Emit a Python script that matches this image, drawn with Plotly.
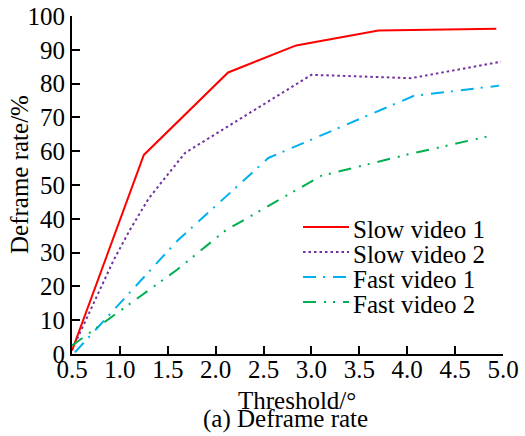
import plotly.graph_objects as go

# ---- data ----
series_names = ["Slow video 1", "Slow video 2", "Fast video 1", "Fast video 2"]
slow1_x = [0.5, 1.25, 2.13, 2.84, 3.70, 4.93]
slow1_y = [1.0, 58.9, 83.3, 91.3, 95.7, 96.2]
slow2_x = [0.53, 0.93, 1.10, 1.30, 1.68, 3.00, 4.04, 4.98]
slow2_y = [3.0, 27.5, 36.5, 46.0, 59.5, 82.6, 81.6, 86.5]
fast1_x = [0.53, 1.60, 2.55, 4.07, 4.96]
fast1_y = [0.5, 33.5, 58.0, 76.4, 79.4]
fast2_x = [0.5, 1.60, 2.10, 3.10, 4.00, 4.86]
fast2_y = [2.5, 25.0, 36.5, 52.7, 59.0, 64.5]
x_ticks = [0.5, 1.0, 1.5, 2.0, 2.5, 3.0, 3.5, 4.0, 4.5, 5.0]
x_tick_labels = ["0.5", "1.0", "1.5", "2.0", "2.5", "3.0", "3.5", "4.0", "4.5", "5.0"]
y_ticks = [0, 10, 20, 30, 40, 50, 60, 70, 80, 90, 100]

colors = ["#FF0000", "#7030A0", "#00B0F0", "#00B050"]
dashes = ["solid", "2.5px,3px", "13px,7px,2px,8px", "13px,8px,2px,7px,2px,8px"]
FONT = "Liberation Serif, Times New Roman, serif"
FS = 25

fig = go.Figure()
for name, xs, ys, c, d in zip(series_names,
                              [slow1_x, slow2_x, fast1_x, fast2_x],
                              [slow1_y, slow2_y, fast1_y, fast2_y],
                              colors, dashes):
    fig.add_trace(go.Scatter(x=xs, y=ys, mode="lines", name=name,
                             line=dict(color=c, width=2, dash=d),
                             showlegend=False))

# plot-area pixel geometry (for the hand-built legend)
L, R, T, B = 72, 22, 16, 82
W, H = 525, 436
pw, ph = W - L - R, H - T - B


def px(xp):
    return (xp - L) / pw


def py(yp):
    return (H - B - yp) / ph


shapes = []
annotations = []
row_y = [227, 252, 277, 302]
for name, c, d, yy in zip(series_names, colors, dashes, row_y):
    shapes.append(dict(type="line", xref="paper", yref="paper",
                       x0=px(303), x1=px(349), y0=py(yy), y1=py(yy),
                       line=dict(color=c, width=2, dash=d)))
    annotations.append(dict(text=name, xref="paper", yref="paper",
                            x=px(351), y=py(yy + 2), xanchor="left", yanchor="middle",
                            showarrow=False, font=dict(family=FONT, size=FS, color="black")))

annotations.append(dict(text="(a) Deframe rate", xref="paper", yref="paper",
                        x=px(285), y=py(419), xanchor="center", yanchor="middle",
                        showarrow=False, font=dict(family=FONT, size=FS, color="black")))
annotations.append(dict(text="Threshold/°", xref="paper", yref="paper",
                        x=px(297), y=py(400), xanchor="center", yanchor="middle",
                        showarrow=False, font=dict(family=FONT, size=FS, color="black")))
annotations.append(dict(text="Deframe rate/%", xref="paper", yref="paper",
                        x=px(19), y=py(175), xanchor="center", yanchor="middle",
                        textangle=-90, showarrow=False,
                        font=dict(family=FONT, size=FS, color="black")))

fig.update_layout(
    width=W, height=H,
    margin=dict(l=L, r=R, t=T, b=B),
    paper_bgcolor="white", plot_bgcolor="white",
    font=dict(family=FONT, size=FS, color="black"),
    shapes=shapes, annotations=annotations,
    xaxis=dict(range=[0.5, 5.0], tickvals=x_ticks, ticktext=x_tick_labels,
               automargin=False, ticklabelstandoff=-8,
               showgrid=False, zeroline=False, showline=True, linecolor="black",
               linewidth=2, ticks="inside", ticklen=8, tickwidth=2, tickcolor="black",
               tickfont=dict(family=FONT, size=FS, color="black")),
    yaxis=dict(range=[0, 100], tickvals=y_ticks, automargin=False,
               showgrid=False, zeroline=False, showline=True, linecolor="black",
               linewidth=2, ticks="inside", ticklen=8, tickwidth=2, tickcolor="black",
               tickfont=dict(family=FONT, size=FS, color="black")),
)

fig.write_html("out.html")
